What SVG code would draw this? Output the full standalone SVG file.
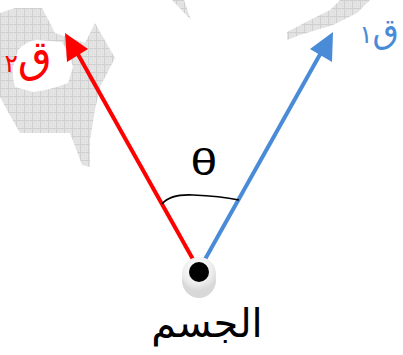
<svg xmlns="http://www.w3.org/2000/svg" width="403" height="355" viewBox="0 0 403 355">
<style>
.bg{fill:url(#grid);stroke:none}
.lbl{font-family:"DejaVu Sans","Noto Sans",sans-serif}
</style>
<defs>
<pattern id="grid" width="8" height="8" patternUnits="userSpaceOnUse">
<rect width="8" height="8" fill="#e4e4e4"/>
<path d="M0 0.5H8M0.5 0V8" stroke="#d0d0d0" stroke-width="1"/>
<path d="M2 2h1M6 6h1M6 2h1M2 6h1M4 4h1" stroke="#dbdbdb" stroke-width="1"/>
</pattern>
<radialGradient id="body" cx="0.45" cy="0.35" r="0.7">
<stop offset="0" stop-color="#ffffff"/>
<stop offset="0.6" stop-color="#eeeeee"/>
<stop offset="1" stop-color="#d4d4d4"/>
</radialGradient>
</defs>
<g id="background">
<path class="bg" d="M0,13 L15,8 L42,8 L50,23 L55,33 L64,36 L85,43 L95,23 L115,58 L100,87 L95,110 L90,140 L90,167 L82,165 L70,133 L20,133 L8,112 L0,97 Z"/>
<path fill="#ffffff" d="M18,50 Q28,40 37,40 L62,42 Q70,55 73,67 L68,83 Q50,90 33,92 L15,87 Q12,75 13,67 Z"/>
<path class="bg" d="M172,0 L184,0 L191,20 Z"/>
<path class="bg" d="M287,40 L300,35 L333,25 L357,13 L370,0 L340,0 L330,10 L310,20 L287,32 Z"/>
</g>
<g id="connectors">
<line x1="199" y1="270" x2="71" y2="42" stroke="#ff0000" stroke-width="4"/>
<polygon points="65,33 88,49 67,62" fill="#ff0000"/>
<line x1="199" y1="270" x2="327" y2="42" stroke="#4a8bd8" stroke-width="4"/>
<polygon points="333,32 310,49 332,62" fill="#4a8bd8"/>
<path d="M162,204 Q170,194 193,195 Q220,196 239,200" fill="none" stroke="#000" stroke-width="1.6"/>
</g>
<g id="object">
<ellipse cx="199" cy="280" rx="17" ry="18" fill="#d8d8d8"/>
<circle cx="199" cy="274" r="17" fill="url(#body)"/>
<circle cx="199" cy="272" r="10" fill="#000"/>
</g>
<g id="labels">
<text class="lbl" x="52" y="72" font-size="44" fill="#ff0000" text-anchor="end">ق<tspan font-size="25">٢</tspan></text>
<text class="lbl" x="399" y="43" font-size="34" fill="#4a8bd8" text-anchor="end">ق<tspan font-size="25">١</tspan></text>
<text transform="translate(204,175) scale(1.3,1)" font-family="Liberation Sans, Arial, sans-serif" font-size="37" fill="#000" text-anchor="middle">θ</text>
<text class="lbl" x="207" y="337" font-size="40" fill="#000" text-anchor="middle">الجسم</text>
</g>
</svg>
